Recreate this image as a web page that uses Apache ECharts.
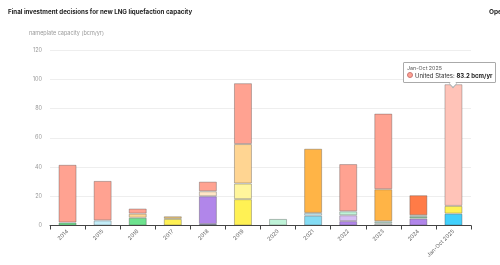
<!DOCTYPE html>
<html><head><meta charset="utf-8">
<script src="https://cdn.jsdelivr.net/npm/echarts@6/dist/echarts.min.js"></script>
<style>html,body{margin:0;padding:0;background:#fff;overflow:hidden}#c{width:500px;height:265px;}</style>
</head><body><div id="c"></div>
<script>
const categories = ['2014','2015','2016','2017','2018','2019','2020','2021','2022','2023','2024','Jan-Oct 2025'];
const yTicks = [0,20,40,60,80,100,120];
// stacked series, bottom to top (bcm/yr)
const brunei     = [0,0,0,0,1,0,0,0,0,0,0,0];
const argentina  = [0,0,0,0,0,0,0,0,0,0,0,8.1];
const malaysia   = [0,0,0,0,0,0,0,6.7,0,0,0,0];
const indonesia  = [0,3.5,0,0,0,0,0,1.9,0,0,0,0];
const canada     = [0,0,0,0,19,0,0,0,3,0,4.7,0];
const mexico     = [0,0,0,0,0,0,0,0,4,0,0,0];
const australia  = [0,0,0,0,0,0,0,0,0,1.5,0,0];
const senegal    = [2,0,5.3,0,0,0,0,0,0,0,1.2,0];
const congo      = [0,0,0,0,0,0,4.5,0,2.7,1.4,1.1,0];
const mozambique = [0,0,0,4.5,0,18,0,0,0,0,0,5.3];
const nigeria    = [0,0,0,0,0,10.7,0,0,0,0,0,0];
const cameroon   = [0,0,0,1.8,0,0,0,0,0,0,0,0];
const russia     = [0,0,2.8,0,0,27,0,0,0,0,0,0];
const mauritania = [0,0,0,0,3.4,0,0,0,0,0,0,0];
const qatar      = [0,0,0,0,0,0,0,43.9,0,21.9,0,0];
const uae        = [0,0,0,0,0,0,0,0,0,0,13.7,0];
const unitedStates = [39.5,27,3.5,0,6.6,41.6,0,0,32.3,51.7,0,83.2];

const seriesDefs = [
  ['Brunei', brunei, '#3D5E9E'],
  ['Argentina', argentina, '#41D0FC'],
  ['Malaysia', malaysia, '#84DCF4'],
  ['Indonesia', indonesia, '#C4EDF8'],
  ['Canada', canada, '#B186EA'],
  ['Mexico', mexico, '#D6BDF5'],
  ['Australia', australia, '#D8DDD8'],
  ['Senegal', senegal, '#6DE28E'],
  ['Congo', congo, '#BFF3D8'],
  ['Mozambique', mozambique, '#FFF154'],
  ['Nigeria', nigeria, '#FFF59C'],
  ['Cameroon', cameroon, '#E9C274'],
  ['Russia', russia, '#FFD592'],
  ['Mauritania', mauritania, '#FFE6C6'],
  ['Qatar', qatar, '#FFB446'],
  ['United Arab Emirates', uae, '#FF7B47'],
  ['United States', unitedStates, '#FFA291']
];

const chart = echarts.init(document.getElementById('c'), null, {renderer:'canvas'});
const series = seriesDefs.map(([name, data, color]) => ({
  name, type:'bar', stack:'total', barWidth:18,
  data: data.map(v => v === 0 ? null : v),
  itemStyle:{color, borderColor:'rgba(70,70,70,0.35)', borderWidth:1},
  emphasis:{focus:'none', itemStyle:{color: name==='United States' ? '#FFC3B8' : color}}
}));

chart.setOption({
  animation:false,
  textStyle:{fontFamily:'Inter, "Noto Sans", sans-serif'},
  title:[
    {text:'Final investment decisions for new LNG liquefaction capacity', left:3, top:4,
     textStyle:{fontSize:6.2, fontWeight:'bold', color:'#222'}},
    {text:'Open', left:484, top:4, textStyle:{fontSize:6.5, fontWeight:'bold', color:'#222'}}
  ],
  grid:{left:50, right:29, top:50, bottom:39.5},
  tooltip:{
    trigger:'item', triggerOn:'none', alwaysShowContent:true,
    position: () => [403, 62],
    backgroundColor:'#fff', borderColor:'#aaa', borderWidth:1, padding:[2,3],
    extraCssText:'box-shadow:none;border-radius:1px;overflow:visible;',
    textStyle:{fontSize:5.5, color:'#444'},
    formatter: p => '<div style="position:relative;font-family:Inter,sans-serif">' +
      '<div style="font-size:5.3px;color:#555;line-height:7px">' + p.name + '</div>' +
      '<div style="font-size:6px;line-height:8px;color:#333;white-space:nowrap"><span style="display:inline-block;width:4px;height:4px;border-radius:50%;background:#FFA291;border:1px solid #c77;margin-right:2px;vertical-align:0px"></span>' +
      p.seriesName + ': <b style="color:#222">' + p.value + ' bcm/yr</b></div>' +
      '<div style="position:absolute;left:43px;bottom:-7px;width:5px;height:5px;background:#fff;border-right:1px solid #aaa;border-bottom:1px solid #aaa;transform:rotate(45deg)"></div>' +
      '</div>'
  },
  xAxis:{
    type:'category', data:categories,
    axisLine:{lineStyle:{color:'#444', width:1}},
    axisTick:{show:true, length:4, lineStyle:{color:'#444'}},
    axisLabel:{rotate:45, fontSize:5.5, color:'#666', margin:5, interval:0}
  },
  yAxis:{
    type:'value', min:yTicks[0], max:yTicks[yTicks.length-1], interval:20,
    name:'nameplate capacity (bcm/yr)', nameLocation:'end', nameGap:14,
    nameTextStyle:{fontSize:5.5, color:'#999', align:'left', padding:[0,0,0,-21]},
    axisLine:{show:false}, axisTick:{show:false},
    axisLabel:{fontSize:5.5, color:'#999', margin:8},
    splitLine:{lineStyle:{color:'#EEEEEE', width:1}}
  },
  series
});
const usIdx = seriesDefs.findIndex(d => d[0]==='United States');
chart.dispatchAction({type:'highlight', seriesIndex:usIdx, dataIndex:11});
chart.dispatchAction({type:'showTip', seriesIndex:usIdx, dataIndex:11});
</script></body></html>
